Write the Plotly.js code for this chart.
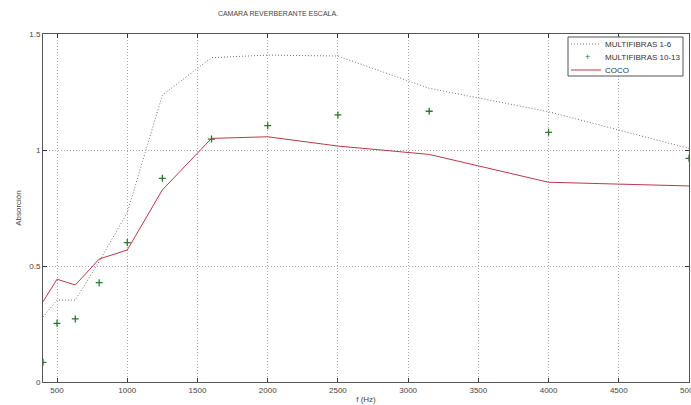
<!DOCTYPE html>
<html>
<head>
<meta charset="utf-8">
<script src="https://cdn.plot.ly/plotly-3.0.1.min.js"></script>
<style>html,body{margin:0;padding:0;background:#fff;}#chart{width:691px;height:405px;}</style>
</head>
<body>
<div id="chart"></div>
<script>
const freqs = [400, 500, 630, 800, 1000, 1250, 1600, 2000, 2500, 3150, 4000, 5000];
const multifibras16 = [0.28, 0.353, 0.353, 0.52, 0.73, 1.237, 1.398, 1.409, 1.405, 1.266, 1.165, 1.007];
const multifibras1013 = [0.085, 0.253, 0.272, 0.428, 0.601, 0.878, 1.047, 1.105, 1.151, 1.167, 1.076, 0.964];
const coco = [0.346, 0.443, 0.418, 0.530, 0.569, 0.828, 1.050, 1.057, 1.017, 0.981, 0.861, 0.845];
const seriesNames = ['MULTIFIBRAS 1-6', 'MULTIFIBRAS 10-13', 'COCO'];
const xTicks = [500, 1000, 1500, 2000, 2500, 3000, 3500, 4000, 4500, 5000];
const yTicks = [0, 0.5, 1, 1.5];
const yTickText = ['0', '0.5', '1', '1.5'];

const FONT = 'Liberation Sans, Arial, sans-serif';
const GRAY_DOT = '#707070', GREEN = '#2a7a2a', RED = '#b83a4a';

const traces = [
  {x: freqs, y: multifibras16, name: seriesNames[0], mode: 'lines',
   line: {color: GRAY_DOT, width: 1, dash: '1px,2px'}},
  {x: freqs, y: multifibras1013, name: seriesNames[1], mode: 'markers',
   marker: {symbol: 'cross-thin', size: 5, line: {color: GREEN, width: 1.3}, color: GREEN}},
  {x: freqs, y: coco, name: seriesNames[2], mode: 'lines',
   line: {color: RED, width: 1}}
];

const axisCommon = {
  showline: true, linecolor: '#555', linewidth: 1, mirror: 'ticks',
  ticks: 'inside', ticklen: 4, tickcolor: '#333',
  showgrid: true, gridcolor: '#a8a8a8', griddash: '1px,2px', gridwidth: 1,
  zeroline: false, ticklabeloverflow: 'allow',
  tickfont: {family: FONT, size: 8, color: '#444'}
};

// legend drawn in plot-area pixel geometry (plot area: x 43..689, y 34..382)
const L = 43, W = 646, B = 382, H = 348;
const px = v => (v - L) / W;
const py = v => (B - v) / H;
const rows = [44, 57, 70];

const shapes = [
  {type: 'rect', xref: 'paper', yref: 'paper', x0: px(568), x1: px(683), y0: py(37), y1: py(76),
   line: {color: '#555', width: 1}, fillcolor: '#fff', layer: 'above'},
  {type: 'line', xref: 'paper', yref: 'paper', x0: px(571), x1: px(601), y0: py(rows[0]), y1: py(rows[0]),
   line: {color: GRAY_DOT, width: 1, dash: '1px,2px'}, layer: 'above'},
  {type: 'line', xref: 'paper', yref: 'paper', x0: px(571), x1: px(601), y0: py(rows[2]), y1: py(rows[2]),
   line: {color: RED, width: 1}, layer: 'above'}
];

const annotations = seriesNames.map((n, i) => ({
  xref: 'paper', yref: 'paper', x: px(603), y: py(rows[i]), xanchor: 'left', yanchor: 'middle',
  text: n, showarrow: false, font: {family: FONT, size: 8, color: '#333'}
}));
annotations.push({xref: 'paper', yref: 'paper', x: px(587), y: py(rows[1]), xanchor: 'center', yanchor: 'middle',
  text: '+', showarrow: false, font: {family: FONT, size: 9, color: GREEN}});

const layout = {
  width: 691, height: 405,
  margin: {l: 43, r: 2, t: 34, b: 23},
  paper_bgcolor: '#fff', plot_bgcolor: '#fff',
  showlegend: false,
  title: {text: 'CAMARA REVERBERANTE ESCALA.', x: 278/691, xanchor: 'center', y: 1 - 14/405, yanchor: 'middle',
          font: {family: FONT, size: 7, color: '#444'}},
  xaxis: Object.assign({}, axisCommon, {
    range: [400, 5000], tickvals: xTicks, ticktext: xTicks.map(String),
    title: {text: 'f (Hz)', standoff: 2, font: {family: FONT, size: 8, color: '#444'}}
  }),
  yaxis: Object.assign({}, axisCommon, {
    range: [0, 1.5], tickvals: yTicks, ticktext: yTickText,
    title: {text: 'Absorción', standoff: 6, font: {family: FONT, size: 8, color: '#444'}}
  }),
  shapes: shapes,
  annotations: annotations
};

Plotly.newPlot('chart', traces, layout, {displayModeBar: false, staticPlot: true});
</script>
</body>
</html>
